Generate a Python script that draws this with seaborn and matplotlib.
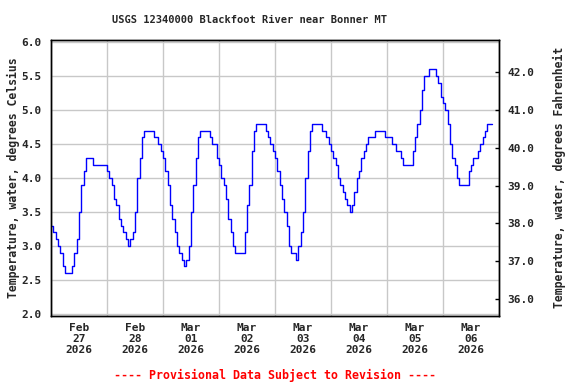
import numpy as np
import pandas as pd
import seaborn as sns
import matplotlib.pyplot as plt
import matplotlib.dates as mdates
from matplotlib.ticker import FormatStrFormatter

# hourly water temperature (deg C), starting 2026-02-27 00:00
start = "2026-02-27 00:00"
temp_c = [
    3.3, 3.2, 3.1, 3.0, 2.9, 2.7, 2.6, 2.6, 2.6, 2.7, 2.9, 3.1, 3.5, 3.9, 4.1, 4.3, 4.3, 4.3, 4.2, 4.2, 4.2, 4.2, 4.2, 4.2,
    4.1, 4.0, 3.9, 3.7, 3.6, 3.4, 3.3, 3.2, 3.1, 3.0, 3.1, 3.2, 3.5, 4.0, 4.3, 4.6, 4.7, 4.7, 4.7, 4.7, 4.6, 4.6, 4.5, 4.4,
    4.3, 4.1, 3.9, 3.6, 3.4, 3.2, 3.0, 2.9, 2.8, 2.7, 2.8, 3.0, 3.5, 3.9, 4.3, 4.6, 4.7, 4.7, 4.7, 4.7, 4.6, 4.5, 4.5, 4.3,
    4.2, 4.0, 3.9, 3.7, 3.4, 3.2, 3.0, 2.9, 2.9, 2.9, 2.9, 3.2, 3.6, 3.9, 4.4, 4.7, 4.8, 4.8, 4.8, 4.8, 4.7, 4.6, 4.5, 4.4,
    4.3, 4.1, 3.9, 3.7, 3.5, 3.3, 3.0, 2.9, 2.9, 2.8, 3.0, 3.2, 3.5, 4.0, 4.4, 4.7, 4.8, 4.8, 4.8, 4.8, 4.7, 4.7, 4.6, 4.5,
    4.4, 4.3, 4.2, 4.0, 3.9, 3.8, 3.7, 3.6, 3.5, 3.6, 3.8, 4.0, 4.1, 4.3, 4.4, 4.5, 4.6, 4.6, 4.6, 4.7, 4.7, 4.7, 4.7, 4.6,
    4.6, 4.6, 4.5, 4.5, 4.4, 4.4, 4.3, 4.2, 4.2, 4.2, 4.2, 4.4, 4.6, 4.8, 5.0, 5.3, 5.5, 5.5, 5.6, 5.6, 5.6, 5.5, 5.4, 5.2,
    5.1, 5.0, 4.8, 4.5, 4.3, 4.2, 4.0, 3.9, 3.9, 3.9, 3.9, 4.1, 4.2, 4.3, 4.3, 4.4, 4.5, 4.6, 4.7, 4.8, 4.8, 4.8,
]
day_labels = ["Feb\n27\n2026", "Feb\n28\n2026", "Mar\n01\n2026", "Mar\n02\n2026",
              "Mar\n03\n2026", "Mar\n04\n2026", "Mar\n05\n2026", "Mar\n06\n2026"]
c_ticks = [2.0, 2.5, 3.0, 3.5, 4.0, 4.5, 5.0, 5.5, 6.0]
f_ticks = [36.0, 37.0, 38.0, 39.0, 40.0, 41.0, 42.0]

sns.set_style("whitegrid")
plt.rcParams['font.family'] = ['DejaVu Sans Mono']
plt.rcParams['font.weight'] = 'bold'
plt.rcParams['font.size'] = 8

df = pd.DataFrame({"time": pd.date_range(start, periods=len(temp_c), freq="h"),
                   "temp": temp_c})

fig = plt.figure(figsize=(5.76, 3.84), dpi=100)
ax = fig.add_axes([0.0885, 0.177, 0.778, 0.72])
sns.lineplot(data=df, x="time", y="temp", ax=ax, color="#0000ff", lw=1,
             drawstyle="steps-post")

days = pd.date_range("2026-02-27", "2026-03-07", freq="D")
ax.set_xlim(mdates.date2num(days[0]), mdates.date2num(days[-1]))
ax.set_xticks(mdates.date2num(days))
ax.set_xticklabels([])
ax.set_xticks(mdates.date2num(days[:-1] + pd.Timedelta(hours=12)), minor=True)
ax.set_xticklabels(day_labels, minor=True, linespacing=1.15)
ax.tick_params(axis="x", which="both", length=0, pad=5, labelsize=8)
ax.set_xlabel("")

ylo, yhi = 1.97, 6.04
ax.set_ylim(ylo, yhi)
ax.set_yticks(c_ticks)
ax.yaxis.set_major_formatter(FormatStrFormatter("%.1f"))
ax.tick_params(axis="y", length=0, pad=7, labelsize=8)
ax.set_ylabel("Temperature, water, degrees Celsius", fontsize=8.3,
              fontweight="bold", labelpad=1)

ax.grid(True, which="major", color="#c8c8c8", lw=1)
ax.grid(False, which="minor")
for s in ax.spines.values():
    s.set_color("black")
    s.set_linewidth(1)

ax2 = ax.twinx()
ax2.set_ylim(ylo * 1.8 + 32, yhi * 1.8 + 32)
ax2.set_yticks(f_ticks)
ax2.yaxis.set_major_formatter(FormatStrFormatter("%.1f"))
ax2.grid(False)
ax2.tick_params(axis="y", direction="in", length=3, width=1, color="black", pad=6, labelsize=8)
ax2.set_ylabel("Temperature, water, degrees Fahrenheit", fontsize=8.3,
               fontweight="bold", labelpad=13)
for s in ax2.spines.values():
    s.set_color("black")
    s.set_linewidth(1)

fig.text(249 / 576, 1 - 20 / 384, "USGS 12340000 Blackfoot River near Bonner MT",
         ha="center", va="center", fontsize=7.5, fontweight="bold")
fig.text(275 / 576, 1 - 375 / 384, "---- Provisional Data Subject to Revision ----",
         ha="center", va="center", fontsize=8.4, fontweight="bold", color="#ff0000")

fig.savefig("out.png", dpi=100)
